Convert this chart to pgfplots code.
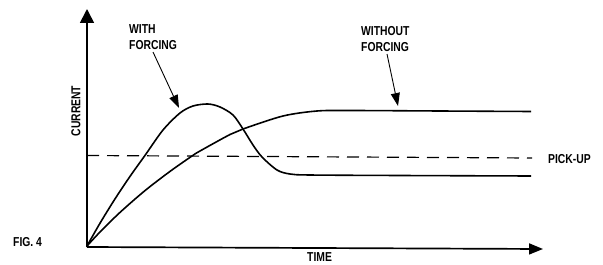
\documentclass[border=0pt]{standalone}
\usepackage{pgfplots}
\pgfplotsset{compat=1.18}
\usepackage{fontspec}
\usetikzlibrary{arrows.meta}
\newfontfamily\lab{Liberation Sans}[FakeStretch=0.8]
\newcommand\lf{\lab\bfseries\fontsize{13}{16}\selectfont}
\begin{document}
\begin{tikzpicture}
\begin{axis}[
  width=603bp, height=265bp, scale only axis,
  xmin=0, xmax=603, ymin=0, ymax=265, y dir=reverse,
  hide axis, clip=false,
]
\path (axis cs:0,0) rectangle (axis cs:603,265);
% axes
\addplot[black, line width=1.7pt, -{Triangle[width=14pt,length=14pt]}, no marks] coordinates {(87,247) (87,9)};
\addplot[black, line width=1.7pt, -{Triangle[width=11pt,length=14pt]}, no marks] coordinates {(87,247) (543,249)};
% pick-up
\addplot[black, line width=1.2pt, dash pattern=on 12bp off 8bp, no marks] coordinates {(87,155.5) (532,158)};
% with forcing
\addplot[black, line width=1.6pt, smooth, no marks] coordinates {
(87,246) (100,223.2) (115,198.9) (130,176.4) (145,155.4) (163,130) (180,113) (193,106)
(208,104) (220,107) (233,115) (243,129) (253,145) (262,157) (277,170) (290,174)
(310,175) (400,175.5) (531,176)};
% without forcing
\addplot[black, line width=1.6pt, smooth, no marks] coordinates {
(87,246) (100,232) (120,212.4) (145,190.6) (170,171.4) (192,156) (200,151) (230,134.5)
(243,129) (283,116) (317,111) (350,110.5) (440,111) (531,111.5)};
% pointer arrows
\addplot[black, line width=0.9pt, -{Triangle[width=9pt,length=13pt]}, no marks] coordinates {(153,52) (179,108)};
\addplot[black, line width=0.9pt, -{Triangle[width=9pt,length=13pt]}, no marks] coordinates {(387,54) (398,106)};
% labels
\node[anchor=west, align=left, font=\lf, inner sep=0pt] at (axis cs:129,37) {WITH\\FORCING};
\node[anchor=west, align=left, font=\lf, inner sep=0pt] at (axis cs:361,39) {WITHOUT\\FORCING};
\node[anchor=west, font=\lf, inner sep=0pt] at (axis cs:548,159) {PICK-UP};
\node[anchor=west, font=\lf, inner sep=0pt] at (axis cs:307,257.5) {TIME};
\node[anchor=west, font=\lf, inner sep=0pt] at (axis cs:13,242) {FIG. 4};
\node[rotate=90, font=\lf, inner sep=0pt] at (axis cs:76,111) {CURRENT};
\end{axis}
\end{tikzpicture}
\end{document}
